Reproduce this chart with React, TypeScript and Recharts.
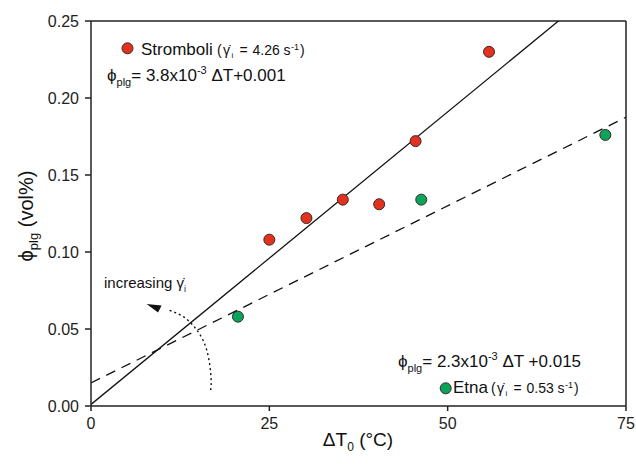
import {
  ComposedChart,
  Scatter,
  Line,
  XAxis,
  YAxis,
  ReferenceLine
} from 'recharts';

// Stromboli samples (ΔT0 in °C, φplg in vol%)
const stromboliDT = [25.0, 30.2, 35.3, 40.4, 45.5, 55.8];
const stromboliPhi = [0.108, 0.122, 0.134, 0.131, 0.172, 0.230];

// Etna samples
const etnaDT = [20.6, 46.3, 72.1];
const etnaPhi = [0.058, 0.134, 0.176];

// linear fits written on the figure
const stromboliFit = { slope: 0.0038, intercept: 0.001 };
const etnaFit = { slope: 0.0023, intercept: 0.015 };

const xTicks = [0, 25, 50, 75];
const yTicks = [0, 0.05, 0.1, 0.15, 0.2, 0.25];

// hand-drawn "increasing shear rate" arrow (data coords)
const arrowArcX = [16.78, 16.82, 16.22, 14.82, 12.94, 10.61];
const arrowArcY = [0.0104, 0.019, 0.0364, 0.0494, 0.058, 0.0628];
const arrowTip = [{ x: 7.79, y: 0.0662 }];

const RED = '#e2321f';
const GREEN = '#0aa55a';
const INK = '#222';
const FONT = '"Liberation Sans", Arial, Helvetica, sans-serif';

const stromboli = stromboliDT.map((x, i) => ({ x, y: stromboliPhi[i] }));
const etna = etnaDT.map((x, i) => ({ x, y: etnaPhi[i] }));
const arrowArc = arrowArcX.map((x, i) => ({ x, y: arrowArcY[i] }));

const fitSegment = (f: { slope: number; intercept: number }) => [
  { x: 0, y: f.intercept },
  { x: 75, y: f.intercept + f.slope * 75 }
];

const dot = (fill: string) => (props: any) => (
  <circle cx={props.cx} cy={props.cy} r={5.5} fill={fill} stroke="#3a2a26" strokeWidth={1} />
);

const ArrowHead = (props: any) => {
  const { cx, cy } = props;
  return <polygon points={`${cx},${cy} ${cx + 15},${cy + 1.5} ${cx + 11.5},${cy + 8.5}`} fill="#111" />;
};

// shear-rate note "(γ̇i = v s-1)" laid out piece by piece
const RateNote = ({ x, y, value }: { x: number; y: number; value: string }) => (
  <g fontSize={14}>
    <text x={x} y={y}>(</text>
    <text x={x + 6} y={y}>γ̇</text>
    <text x={x + 14.5} y={y + 3} fontSize={8}>i</text>
    <text x={x + 22.5} y={y}>=</text>
    <text x={x + 35.5} y={y}>{value}</text>
    <text x={x + 66.5} y={y}>s</text>
    <text x={x + 74} y={y - 5} fontSize={9}>-1</text>
    <text x={x + 83} y={y}>)</text>
  </g>
);

const Equation = ({ x, y, slope, rest }: { x: number; y: number; slope: string; rest: string }) => (
  <text x={x} y={y} fontSize={17}>
    ϕ<tspan fontSize={11} dy={5}>plg</tspan>
    <tspan dy={-5}>= {slope}x10</tspan>
    <tspan fontSize={11} dy={-7}>-3</tspan>
    <tspan dy={7}>{rest}</tspan>
  </text>
);

export default function App() {
  return (
    <div style={{ position: 'absolute', left: 0, top: 0, width: 636, height: 465, background: '#fff', fontFamily: FONT }}>
      <ComposedChart width={636} height={465} margin={{ top: 21, right: 10, bottom: 0, left: 0 }}>
        <XAxis
          type="number"
          dataKey="x"
          domain={[0, 75]}
          ticks={xTicks}
          height={59}
          tickSize={5}
          tickMargin={7}
          axisLine={{ stroke: INK, strokeWidth: 1.5 }}
          tickLine={{ stroke: INK, strokeWidth: 1.5 }}
          tick={{ fontSize: 16, fill: INK, fontFamily: FONT }}
          allowDataOverflow
        />
        <YAxis
          type="number"
          dataKey="y"
          domain={[0, 0.25]}
          ticks={yTicks}
          width={91}
          tickSize={6}
          tickMargin={6}
          axisLine={{ stroke: INK, strokeWidth: 1.5 }}
          tickLine={{ stroke: INK, strokeWidth: 1.5 }}
          tick={{ fontSize: 16, fill: INK, fontFamily: FONT }}
          tickFormatter={(v: number) => v.toFixed(2)}
          allowDataOverflow
        />
        {/* frame: top and right edges */}
        <ReferenceLine y={0.25} stroke={INK} strokeWidth={1.5} />
        <ReferenceLine x={75} stroke={INK} strokeWidth={1.5} />
        <ReferenceLine segment={fitSegment(stromboliFit)} stroke="#111" strokeWidth={1.3} ifOverflow="hidden" />
        <ReferenceLine segment={fitSegment(etnaFit)} stroke="#111" strokeWidth={1.3} strokeDasharray="10 7" ifOverflow="hidden" />
        <Line
          data={arrowArc}
          dataKey="y"
          type="natural"
          stroke="#111"
          strokeWidth={1.4}
          strokeDasharray="2 3"
          dot={false}
          activeDot={false}
          isAnimationActive={false}
        />
        <Scatter data={arrowTip} dataKey="y" shape={ArrowHead} isAnimationActive={false} />
        <Scatter data={stromboli} dataKey="y" shape={dot(RED)} isAnimationActive={false} />
        <Scatter data={etna} dataKey="y" shape={dot(GREEN)} isAnimationActive={false} />
      </ComposedChart>

      {/* annotations and axis titles */}
      <svg width={636} height={465} style={{ position: 'absolute', left: 0, top: 0, pointerEvents: 'none' }} fontFamily={FONT} fill="#111">
        <circle cx={127.5} cy={48.3} r={5.5} fill={RED} stroke="#3a2a26" strokeWidth={1} />
        <text x={141} y={55} fontSize={17}>Stromboli</text>
        <RateNote x={217} y={55} value="4.26" />
        <Equation x={107} y={81} slope="3.8" rest=" ΔT+0.001" />

        <Equation x={398} y={367} slope="2.3" rest=" ΔT +0.015" />
        <circle cx={445.7} cy={388.3} r={5.5} fill={GREEN} stroke="#3a2a26" strokeWidth={1} />
        <text x={453} y={393} fontSize={17}>Etna</text>
        <RateNote x={491} y={393} value="0.53" />

        <text x={104} y={288} fontSize={15}>
          increasing γ̇<tspan fontSize={9} dy={4}>i</tspan>
        </text>

        <text x={358} y={446} fontSize={19} textAnchor="middle">
          ΔT<tspan fontSize={12} dy={5}>0</tspan>
          <tspan dy={-5}> (°C)</tspan>
        </text>
        <text x={0} y={0} fontSize={20} textAnchor="middle" transform="translate(33 216) rotate(-90)">
          ϕ<tspan fontSize={13} dy={5}>plg</tspan>
          <tspan dy={-5}> (vol%)</tspan>
        </text>
      </svg>
    </div>
  );
}
